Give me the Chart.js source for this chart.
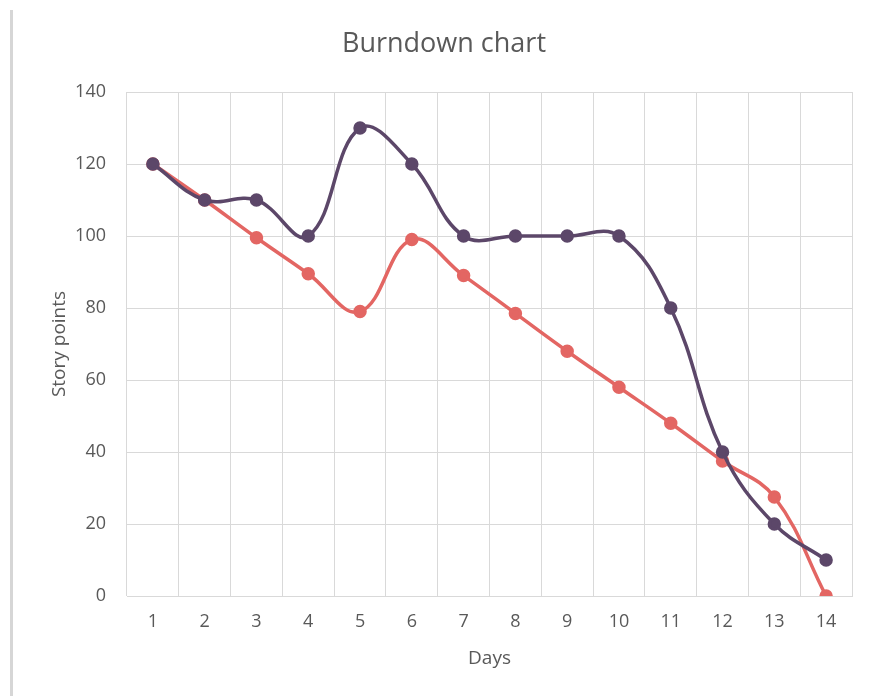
<!DOCTYPE html>
<html>
<head>
<meta charset="utf-8">
<script src="https://cdn.jsdelivr.net/npm/chart.js@4"></script>
<style>
    html, body { margin: 0; padding: 0; background: #fff; }
    #wrap { position: relative; width: 870px; height: 696px; }
    #wrap::before {
        content: ''; position: absolute; left: 10px; top: 10px; bottom: 0;
        width: 3px; background: #d6d6d6;
    }
    canvas { position: absolute; left: 0; top: 0; }
</style>
</head>
<body>
<div id="wrap"><canvas id="burndown" width="870" height="696"></canvas></div>
<script>
const days = ['1', '2', '3', '4', '5', '6', '7', '8', '9', '10', '11', '12', '13', '14'];
const actualPoints = [120, 110, 110, 100, 130, 120, 100, 100, 100, 100, 80, 40, 20, 10];
const plannedPoints = [120, 110, 99.5, 89.5, 79, 99, 89, 78.5, 68, 58, 48, 37.5, 27.5, 0];
const yTicks = [0, 20, 40, 60, 80, 100, 120, 140];

const textColor = '#595959';
const gridColor = '#d9d9d9';
const fontFamily = '"Open Sans", "Noto Sans", sans-serif';

document.addEventListener('DOMContentLoaded', function () {
    const ctx = document.getElementById('burndown').getContext('2d');

    new Chart(ctx, {
        type: 'line',
        data: {
            labels: days,
            datasets: [
                {
                    label: 'Remaining',
                    data: actualPoints,
                    borderColor: '#5c4769',
                    backgroundColor: '#5c4769',
                    borderWidth: 3.5,
                    pointRadius: 5,
                    pointHoverRadius: 5,
                    tension: 0.4,
                    fill: false
                },
                {
                    label: 'Planned',
                    data: plannedPoints,
                    borderColor: '#e36663',
                    backgroundColor: '#e36663',
                    borderWidth: 3.5,
                    pointRadius: 5,
                    pointHoverRadius: 5,
                    tension: 0.4,
                    fill: false
                }
            ]
        },
        options: {
            responsive: false,
            animation: false,
            layout: { padding: { left: 36, right: 18, top: 0, bottom: 0 } },
            plugins: {
                legend: { display: false },
                tooltip: { enabled: false },
                title: {
                    display: true,
                    text: 'Burndown chart',
                    color: textColor,
                    font: { family: fontFamily, size: 27, weight: 'normal', lineHeight: 1.2 },
                    padding: { top: 28, bottom: 31.6 }
                }
            },
            scales: {
                x: {
                    offset: true,
                    grid: { color: gridColor, offset: true, drawTicks: false },
                    border: { color: gridColor },
                    ticks: {
                        color: textColor,
                        padding: 15,
                        font: { family: fontFamily, size: 18 }
                    },
                    title: {
                        display: true,
                        text: 'Days',
                        color: textColor,
                        font: { family: fontFamily, size: 19, lineHeight: 1.2 },
                        padding: { top: 0, bottom: 25.6 }
                    },
                    afterFit: function (scale) { scale.height = 100; }
                },
                y: {
                    min: 0,
                    max: 140,
                    afterBuildTicks: function (scale) {
                        scale.ticks = yTicks.map(v => ({ value: v }));
                    },
                    grid: { color: gridColor, drawTicks: false },
                    border: { display: false },
                    ticks: {
                        color: textColor,
                        padding: 21,
                        font: { family: fontFamily, size: 18 }
                    },
                    title: {
                        display: true,
                        text: 'Story points',
                        color: textColor,
                        font: { family: fontFamily, size: 19, lineHeight: 1.2 },
                        padding: { top: 12.6, bottom: 0 }
                    },
                    afterFit: function (scale) { scale.width = 91; }
                }
            }
        }
    });
});
</script>
</body>
</html>
